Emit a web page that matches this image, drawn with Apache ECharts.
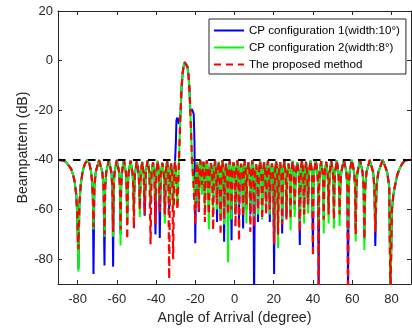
<!DOCTYPE html>
<html><head><meta charset="utf-8">
<script src="https://cdn.jsdelivr.net/npm/echarts@6/dist/echarts.min.js"></script>
<style>html,body{margin:0;padding:0;background:#fff}#c{width:412px;height:330px}</style>
</head><body><div id="c"></div>
<script>
// ---- data ----
const seriesNames = ['CP configuration 1(width:10°)', 'CP configuration 2(width:8°)', 'The proposed method'];
const xTicks = [-80, -60, -40, -20, 0, 20, 40, 60, 80];
const yTicks = [-80, -60, -40, -20, 0, 20];
const constraintLevel = [[-90, -40], [90, -40]];

// sidelobe nulls (angle, degree) shared by the three patterns
const nullAngles = [-79.6,-71.9,-66.3,-61.9,-58.1,-54.7,-51.3,-48.3,-45.8,-42.8,-40.3,-38.1,-35.5,-33.3,-31.3,
  -20.0,-18.2,-16.6,-15.1,-13.1,-10.9,-8.9,-7.1,-5.3,-3.3,-1.5,0.5,2.3,4.4,6.1,8.1,10.0,12.0,14.1,16.1,18.0,
  20.2,22.2,24.3,26.5,28.6,30.7,33.3,35.5,37.5,40.0,42.9,45.5,48.0,50.7,53.6,57.9,61.8,66.2,71.8,79.5];
const nullDepthBlue = [-84,-86,-82.5,-83,-70,-64,-60,-58,-62.5,-58,-70,-71.5,-63,-60,-56,
  -73.6,-61,-52,-58,-60,-55,-65,-62,-73,-66,-72.4,-62,-64,-67.6,-60,-62,-95,-65,-61,-61,-65,
  -86,-64,-69.6,-63,-62,-60,-74.3,-62,-60,-75.6,-95,-64,-60,-62,-60,-95,-68,-72,-74.7,-95];
const nullDepthGreen = [-85,-68,-71,-71,-74.5,-66,-62,-63,-56,-57,-57,-58,-65.6,-58,-59.6,
  -60,-57,-54,-60,-68,-63,-60,-63,-66,-81.2,-64,-60,-58,-62,-65.6,-60,-64,-62,-64,-58,-62,
  -72,-75.6,-64,-60,-68.3,-63,-66,-65.6,-61.6,-63,-66,-69.6,-65.6,-67.6,-66.6,-68,-72.9,-76.3,-69,-95];
const nullDepthRed = [-76,-67,-70,-69,-68,-72,-67.6,-60,-62,-74,-66,-61,-62,-88,-80,
  -66,-61,-50,-65,-62,-68.3,-58,-70.3,-64,-62,-60,-67,-72.7,-63,-58,-69,-67,-60,-64,-62,-60,
  -74,-70,-66,-64,-64,-58,-69,-62,-58,-79,-95,-64,-62,-64,-62,-95,-70,-72,-69,-95];

// sidelobe tops and flanks (angle, dB), common to the three patterns
const sidelobeShape = [
  [-90,-40],[-88,-40.1],[-86,-40.8],[-84.5,-42.3],[-83.3,-43.6],[-82.3,-46],[-81.5,-48.8],[-80.7,-54],[-80.2,-62],
  [-79.1,-58],[-78.4,-50],[-77.5,-45],[-76.5,-42],[-75.2,-40],[-74.0,-41.5],[-73.2,-44.5],[-72.6,-49],[-72.2,-56],
  [-71.45,-51],[-70.8,-45],[-69.1,-40],[-67.4,-45],[-66.75,-51],
  [-65.95,-51],[-65.4,-45],[-64.1,-40],[-62.8,-45],[-62.25,-51],
  [-61.6,-51],[-61.15,-45],[-60.0,-40],[-58.85,-45],[-58.4,-51],
  [-57.8,-51],[-57.4,-45],[-56.4,-40],[-55.4,-45],[-55.0,-51],
  [-54.4,-51],[-54.0,-45.2],[-53.0,-40.3],[-52.0,-45.2],[-51.6,-51],
  [-51.05,-51],[-50.7,-45.3],[-49.8,-40.5],[-48.9,-45.3],[-48.55,-51],
  [-47.8,-45.5],[-47.05,-40.8],[-46.3,-45.5],
  [-45.2,-45],[-44.3,-40.2],[-43.4,-45],
  [-42.3,-45.5],[-41.55,-41],[-40.8,-45.5],
  [-39.85,-45],[-39.2,-40.4],[-38.55,-45],
  [-37.6,-46],[-36.8,-41.2],[-36.0,-46],
  [-35.05,-45],[-34.4,-40.3],[-33.75,-45],
  [-32.9,-46],[-32.3,-41.5],[-31.7,-46],
  [-19.65,-46],[-19.1,-41],[-18.55,-46],
  [-17.9,-45],[-17.4,-40.3],[-16.9,-45],
  [-16.3,-45.5],[-15.85,-40.8],[-15.4,-45.5],
  [-14.7,-45],[-14.1,-40.2],[-13.5,-45],
  [-12.65,-46],[-12.0,-41.3],[-11.35,-46],
  [-10.5,-45],[-9.9,-40.4],[-9.3,-45],
  [-8.55,-45.5],[-8.0,-40.8],[-7.45,-45.5],
  [-6.75,-45],[-6.2,-40.2],[-5.65,-45],
  [-4.9,-46],[-4.3,-41.5],[-3.7,-46],
  [-2.95,-45],[-2.4,-40.5],[-1.85,-45],
  [-1.1,-45.5],[-0.5,-41],[0.1,-45.5],
  [0.85,-45],[1.4,-40.3],[1.95,-45],
  [2.7,-46],[3.35,-41.6],[4.0,-46],
  [4.75,-45],[5.25,-40.4],[5.75,-45],
  [6.5,-45.5],[7.1,-41],[7.7,-45.5],
  [8.5,-45],[9.05,-40.2],[9.6,-45],
  [10.4,-46],[11.0,-41.8],[11.6,-46],
  [12.4,-45],[13.05,-40.5],[13.7,-45],
  [14.5,-45.5],[15.1,-41],[15.7,-45.5],
  [16.5,-45],[17.05,-40.3],[17.6,-45],
  [18.45,-46],[19.1,-41.5],[19.75,-46],
  [20.6,-45],[21.2,-40.5],[21.8,-45],
  [22.6,-45.5],[23.25,-41],[23.9,-45.5],
  [24.75,-45],[25.4,-40.3],[26.05,-45],
  [26.9,-46],[27.55,-41.5],[28.2,-46],
  [29.0,-45],[29.65,-40.4],[30.3,-45],
  [31.2,-45.5],[32.0,-41],[32.8,-45.5],
  [33.75,-45],[34.4,-40.2],[35.05,-45],
  [35.9,-45.5],[36.5,-40.8],[37.1,-45.5],
  [38.0,-45],[38.75,-40.3],[39.5,-45],
  [40.25,-51],[40.6,-45],[41.45,-40.2],[42.3,-45],[42.65,-51],
  [43.15,-51],[43.45,-45],[44.2,-40.5],[44.95,-45],[45.25,-51],
  [45.75,-51],[46.0,-45.3],[46.75,-40.8],[47.5,-45.3],[47.75,-51],
  [48.25,-51],[48.55,-45],[49.35,-40.3],[50.15,-45],[50.45,-51],
  [50.95,-51],[51.3,-45],[52.15,-40.2],[53.0,-45],[53.35,-51],
  [53.95,-51],[54.45,-45],[55.75,-40],[57.05,-45],[57.55,-51],
  [58.2,-51],[58.7,-45],[59.85,-40],[61.0,-45],[61.5,-51],
  [62.15,-51],[62.7,-45],[64.0,-40],[65.3,-45],[65.85,-51],
  [66.65,-51],[67.3,-45],[69.0,-40],[70.7,-45],[71.35,-51],
  [72.4,-51],[73.3,-45],[75.6,-40],[77.9,-45],[78.9,-51],
  [80.3,-60],[81.0,-54],[81.7,-51],[83.0,-46],[84.2,-43.5],[85.5,-41.5],[87.0,-40.3],[88.5,-40],[90,-40]
];

// main lobe region (angle, dB) per pattern
const mainAngles = [-30.7,-30.3,-29.9,-29.6,-29.1,-28.3,-28.0,-27.5,-27.0,-26.5,-26.0,-25.5,-25.0,-24.5,-24.0,-23.5,-23.0,-22.5,-22.0,-21.7,-21.2,-20.8,-20.4];
const mainBlue  = [-44,-40.5,-33,-24,-23,-25.5,-25,-21,-11,-5.5,-2.4,-0.6,0,-0.6,-2.4,-5.5,-11,-20.5,-20,-19.5,-19.4,-21.5,-33];
const mainGreen = [-45,-40.5,-44,-50,-59,-40,-32,-21,-11,-5.5,-2.4,-0.6,0,-0.6,-2.4,-5.5,-11,-21,-32,-40,-45,-49,-54];
const mainRed   = [-45,-40.5,-44,-50,-60,-40,-32,-21,-11,-5.5,-2.4,-0.6,0,-0.6,-2.4,-5.5,-11,-21,-32,-40,-46,-52,-58];

function buildPattern(nullDepth, mainLevels) {
  const pts = sidelobeShape.map(p => [p[0], p[1]]);
  nullAngles.forEach((a, i) => pts.push([a, nullDepth[i]]));
  mainAngles.forEach((a, i) => pts.push([a, mainLevels[i]]));
  pts.sort((p, q) => p[0] - q[0]);
  return pts;
}

const FONT = '"Liberation Sans", Arial, Helvetica, sans-serif';
const AX = '#262626';

const chart = echarts.init(document.getElementById('c'), null, {renderer: 'canvas'});
const axisCommonX = {
  type: 'value', min: -90, max: 90,
  axisLine: {onZero: false, lineStyle: {color: AX, width: 1}},
  axisTick: {inside: true, length: 4, customValues: xTicks, lineStyle: {color: AX}},
  splitLine: {show: false}
};
const axisCommonY = {
  type: 'value', min: -90, max: 20,
  axisLine: {onZero: false, lineStyle: {color: AX, width: 1}},
  axisTick: {inside: true, length: 4, customValues: yTicks, lineStyle: {color: AX}},
  splitLine: {show: false}
};
chart.setOption({
  animation: false,
  backgroundColor: '#fff',
  textStyle: {fontFamily: FONT},
  grid: {left: 58, right: 1, top: 11, bottom: 44},
  legend: {
    data: seriesNames,
    orient: 'vertical', left: 209, top: 19,
    itemWidth: 30, itemHeight: 12, itemGap: 5,
    padding: [5.5, 6, 3.5, 4],
    backgroundColor: '#fff', borderColor: AX, borderWidth: 1,
    selectedMode: false,
    itemStyle: {opacity: 0},
    textStyle: {fontSize: 11.6, color: '#000', fontFamily: FONT}
  },
  xAxis: [
    Object.assign({}, axisCommonX, {
      position: 'bottom',
      axisLabel: {customValues: xTicks, color: AX, fontSize: 13, margin: 9, fontFamily: FONT},
      name: 'Angle of Arrival (degree)', nameLocation: 'middle', nameGap: 27, nameMoveOverlap: false,
      nameTextStyle: {color: AX, fontSize: 14.2, fontFamily: FONT}
    }),
    Object.assign({}, axisCommonX, {position: 'top', axisLabel: {show: false}})
  ],
  yAxis: [
    Object.assign({}, axisCommonY, {
      position: 'left',
      axisLabel: {customValues: yTicks, color: AX, fontSize: 13, margin: 5, fontFamily: FONT},
      name: 'Beampattern (dB)', nameLocation: 'middle', nameGap: 28, nameMoveOverlap: false,
      nameTextStyle: {color: AX, fontSize: 14.2, fontFamily: FONT}
    }),
    Object.assign({}, axisCommonY, {position: 'right', axisLabel: {show: false}})
  ],
  series: [
    {name: seriesNames[0], type: 'line', symbol: 'none', data: buildPattern(nullDepthBlue, mainBlue),
     lineStyle: {color: '#0000ff', width: 2}, itemStyle: {color: '#0000ff'}, emphasis: {disabled: true}, z: 2},
    {name: seriesNames[1], type: 'line', symbol: 'none', data: buildPattern(nullDepthGreen, mainGreen),
     lineStyle: {color: '#00ff00', width: 2}, itemStyle: {color: '#00ff00'}, emphasis: {disabled: true}, z: 2},
    {name: seriesNames[2], type: 'line', symbol: 'none', data: buildPattern(nullDepthRed, mainRed),
     lineStyle: {color: '#ff0000', width: 2.2, type: [7, 5]}, itemStyle: {color: '#ff0000'}, emphasis: {disabled: true}, z: 2},
    {name: 'constraint', type: 'line', symbol: 'none', data: constraintLevel,
     lineStyle: {color: '#000', width: 2, type: [7.5, 7.5]}, emphasis: {disabled: true}, z: 3}
  ]
});
</script></body></html>
